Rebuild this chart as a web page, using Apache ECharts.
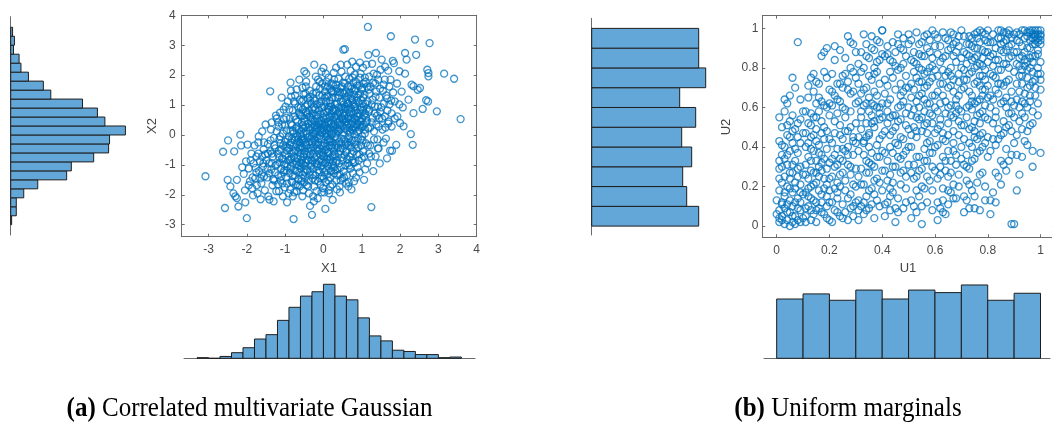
<!DOCTYPE html>
<html><head><meta charset="utf-8">
<script src="https://cdn.jsdelivr.net/npm/echarts@6/dist/echarts.min.js"></script>
<style>html,body{margin:0;padding:0;background:#fff}#c{width:1052px;height:425px}</style>
</head><body><div id="c"></div>
<script>
// ---------- DATA ----------
const x1Edges = [-3.3,-3.0,-2.7,-2.4,-2.1,-1.8,-1.5,-1.2,-0.9,-0.6,-0.3,0,0.3,0.6,0.9,1.2,1.5,1.8,2.1,2.4,2.7,3.0,3.3,3.6];
const x1Counts = [1,0,3,9,17,31,38,61,82,100,107,119,100,94,65,36,28,13,11,6,6,1,2];
const x2Edges = [-3.0,-2.7,-2.4,-2.1,-1.8,-1.5,-1.2,-0.9,-0.6,-0.3,0,0.3,0.6,0.9,1.2,1.5,1.8,2.1,2.4,2.7,3.0,3.3,3.6];
const x2Counts = [1,6,6,14,29,60,65,89,105,106,123,101,93,77,43,35,19,11,9,3,4,2];
const uEdges = [0,0.1,0.2,0.3,0.4,0.5,0.6,0.7,0.8,0.9,1.0];
const u1Counts = [93,101,91,107,93,107,103,115,91,102];
const u2Counts = [107,95,91,100,90,104,88,114,107,107];
const gaussTicks = ['-3','-2','-1','0','1','2','3','4'];
const unifTicks = ['0','0.2','0.4','0.6','0.8','1'];
const captionA = ['(a)', ' Correlated multivariate Gaussian'];
const captionB = ['(b)', ' Uniform marginals'];

const gaussPtsOuter = [
[-3.08,-1.38],
[-2.57,-2.44],[-2.49,-0.18],[-2.43,-1.72],[-2.50,-1.50],[-2.62,-0.56],
[-2.33,-0.55],[-2.26,-2.11],[-2.22,-2.39],[-2.17,0.01],[-2.26,-1.50],[-2.35,-1.95],[-2.15,-0.35],[-2.12,-1.08],[-2.30,-2.05],
[-2.00,-2.78],[-2.05,-1.85],[-1.95,-1.12],[-1.88,-0.62],[-2.02,-0.88],[-1.92,-1.55],[-1.84,-2.02],[-2.08,-1.30],[-1.98,-0.32],[-1.86,-1.78],[-1.82,-0.95],[-2.04,-2.25],
[-1.78,-1.45],[-1.75,-0.72],[-1.72,-1.95],[-1.70,-0.25],[-1.68,-1.20],[-1.66,-0.88],[-1.64,-2.15],[-1.62,-1.62],[-1.60,0.12],[-1.58,-1.05],[-1.56,-0.48],[-1.55,-1.38],[-1.53,-1.85],[-1.52,-0.65],[-1.77,-1.10],[-1.69,-0.05],[-1.61,-1.32],[-1.57,-0.95],[-1.74,-1.68],[-1.51,0.35],
[-1.49,-0.85],[-1.47,-1.42],[-1.45,-0.30],[-1.44,-2.05],[-1.42,-0.95],[-1.41,-2.16],[-1.39,1.46],[-1.38,-0.55],[-1.36,-1.15],[-1.35,0.42],[-1.33,-1.68],[-1.32,-0.72],[-1.30,-2.22],[-1.29,-0.10],[-1.27,-1.25],[-1.26,-0.45],[-1.24,0.65],[-1.23,-1.88],[-1.21,-0.98],[-1.46,-1.12],[-1.37,0.18],[-1.28,-1.52],[-1.22,0.55],[-1.34,-0.62],
[-1.19,-0.62],[-1.18,-1.35],[-1.17,0.28],[-1.16,-1.88],[-1.15,-0.15],[-1.14,-0.92],[-1.13,0.75],[-1.12,-1.52],[-1.11,-0.48],[-1.10,-1.12],[-1.09,1.25],[-1.08,-0.78],[-1.07,-1.62],[-1.06,0.05],[-1.05,-0.35],[-1.04,-1.25],[-1.03,0.52],[-1.02,-0.98],[-1.01,-1.75],[-1.00,-0.22],[-0.99,0.95],[-0.98,-0.68],[-0.97,-1.42],[-0.96,0.15],[-0.95,-0.52],[-0.94,-1.05],[-0.93,1.12],[-0.92,-0.85],[-0.91,-1.95],[-0.90,-0.05],[-1.18,0.42],[-1.12,-0.28],[-1.06,-2.05],[-1.00,0.32],[-0.96,-1.18],[-1.15,-0.75],[-1.04,0.85],[-0.94,-0.42],
[-0.89,-0.45],[-0.88,-1.28],[-0.88,0.55],[-0.87,-0.82],[-0.87,-1.82],[-0.86,0.12],[-0.85,-0.25],[-0.85,-1.05],[-0.84,1.28],[-0.84,-0.62],[-0.83,-1.55],[-0.82,0.32],[-0.82,-0.12],[-0.81,-0.95],[-0.80,0.82],[-0.80,-1.38],[-0.79,-0.38],[-0.78,-2.81],[-0.78,0.05],[-0.77,-0.72],[-0.76,-1.92],[-0.76,0.62],[-0.75,-0.18],[-0.74,-1.18],[-0.74,1.05],[-0.73,-0.52],[-0.72,-1.65],[-0.72,0.22],[-0.71,-0.88],[-0.70,1.52],[-0.70,-0.32],[-0.69,-1.22],[-0.68,0.45],[-0.68,-0.05],[-0.67,-0.78],[-0.66,-1.48],[-0.66,0.92],[-0.65,-0.58],[-0.64,0.18],[-0.64,-1.02],[-0.63,1.85],[-0.63,-0.22],[-0.62,-1.72],[-0.62,0.68],[-0.61,-0.45],[-0.61,-0.92],[-0.86,1.75],[-0.80,-2.05],[-0.74,1.32],[-0.70,-1.88],[-0.66,-0.15],[-0.62,1.18],
[-0.60,-0.28],[-0.60,-1.12],[-0.59,0.65],[-0.59,-0.62],[-0.58,0.15],[-0.58,-1.55],[-0.57,1.12],[-0.57,-0.05],[-0.56,-0.85],[-0.56,0.42],[-0.55,-1.32],[-0.55,1.58],[-0.54,-0.42],[-0.54,0.85],[-0.53,-1.85],[-0.53,0.05],[-0.52,-0.72],[-0.52,1.35],[-0.51,-0.18],[-0.50,2.13],[-0.50,-1.02],[-0.50,0.55],[-0.49,-0.55],[-0.48,0.28],[-0.48,-1.42],[-0.47,0.95],[-0.47,-0.32],[-0.46,-0.92],[-0.45,1.78],[-0.45,0.12],[-0.44,-1.68],[-0.44,-0.65],[-0.43,0.68],[-0.42,-0.08],[-0.42,-1.18],[-0.41,1.22],[-0.40,-0.45],[-0.40,0.38],[-0.39,-0.85],[-0.38,-1.95],[-0.38,0.82],[-0.37,-0.22],[-0.36,1.48],[-0.36,-1.35],[-0.35,-2.37],[-0.35,0.18],[-0.34,-0.68],[-0.33,0.58],[-0.33,-1.05],[-0.32,-0.12],[-0.31,1.05],[-0.31,-0.52],[-0.30,-2.67],[-0.30,0.35],[-0.58,-0.95],[-0.54,0.32],[-0.49,-1.25],[-0.46,1.62],[-0.42,0.72],[-0.39,-1.52],[-0.35,1.28],[-0.32,-0.85],[-0.56,-0.15],
[-0.30,-0.05],[-0.29,-0.85],[-0.29,0.72],[-0.28,-1.45],[-0.28,0.25],[-0.27,-0.42],[-0.27,1.38],[-0.26,-1.12],[-0.26,0.05],[-0.25,0.92],[-0.25,-0.62],[-0.24,2.35],[-0.24,-1.72],[-0.23,0.45],[-0.23,-0.18],[-0.22,1.15],[-0.22,-0.95],[-0.21,0.18],[-0.21,-1.35],[-0.20,0.65],[-0.20,-0.32],[-0.19,1.62],[-0.19,-0.72],[-0.18,-1.88],[-0.18,0.32],[-0.17,-0.08],[-0.17,1.02],[-0.16,-1.05],[-0.16,0.55],[-0.15,-0.52],[-0.14,1.85],[-0.14,-1.55],[-0.13,0.12],[-0.13,-0.25],[-0.12,0.82],[-0.12,-0.88],[-0.11,1.32],[-0.11,-1.25],[-0.10,0.38],[-0.10,-0.45],[-0.09,-0.02],[-0.09,1.55],[-0.08,-1.65],[-0.08,0.68],[-0.07,-0.68],[-0.07,0.22],[-0.06,-1.02],[-0.06,1.12],[-0.05,-0.15],[-0.05,0.48],[-0.04,-1.38],[-0.04,0.92],[-0.03,-0.58],[-0.03,1.72],[-0.02,0.08],[-0.02,-0.92],[-0.01,0.58],[-0.01,-1.78],[0.00,2.24],[0.00,-0.35],[-0.27,-2.05],[-0.20,1.95],[-0.15,-2.12],[-0.10,1.78],[-0.05,-1.92],[-0.22,0.02],[-0.12,-0.12],
[0.01,0.15],[0.01,-0.72],[0.02,0.95],[0.02,-1.25],[0.03,0.42],[0.03,-0.28],[0.04,1.45],[0.04,-0.95],[0.05,-2.47],[0.05,0.62],[0.06,-0.05],[0.06,-1.58],[0.07,1.12],[0.07,-0.48],[0.08,0.28],[0.08,1.78],[0.09,-0.82],[0.09,0.05],[0.10,-1.32],[0.10,0.78],[0.11,-0.18],[0.11,1.32],[0.12,-1.05],[0.12,0.45],[0.13,-0.62],[0.13,1.92],[0.14,0.12],[0.14,-1.85],[0.15,0.95],[0.15,-0.35],[0.16,0.58],[0.16,-0.92],[0.17,1.55],[0.17,-1.42],[0.18,0.22],[0.18,-0.12],[0.19,1.05],[0.19,-0.75],[0.20,0.38],[0.20,-1.18],[0.21,1.72],[0.21,-0.42],[0.22,0.72],[0.22,0.02],[0.23,-1.65],[0.23,1.25],[0.24,-2.17],[0.24,-0.25],[0.25,0.48],[0.25,-0.88],[0.26,1.42],[0.26,0.15],[0.27,-0.55],[0.27,0.88],[0.28,-1.28],[0.28,1.85],[0.29,-0.08],[0.29,0.62],[0.02,-1.92],[0.06,2.05],[0.10,-0.05],[0.14,0.85],[0.18,-1.72],[0.22,1.48],[0.26,-1.02],[0.04,0.32],[0.08,-0.38],[0.12,1.62],[0.16,-0.22],[0.20,0.95],[0.24,0.28],[0.28,-0.72],[0.03,1.25],[0.15,-1.95],[0.27,2.08],
[0.30,0.35],[0.30,-0.65],[0.31,1.25],[0.31,-1.18],[0.32,0.05],[0.32,0.82],[0.33,-0.35],[0.33,1.68],[0.34,-1.52],[0.34,0.52],[0.35,-0.12],[0.35,1.05],[0.36,-0.85],[0.36,0.25],[0.37,1.45],[0.37,-1.35],[0.38,0.68],[0.38,-0.42],[0.39,1.88],[0.39,0.12],[0.40,-0.95],[0.40,0.92],[0.41,-0.22],[0.41,1.32],[0.42,0.42],[0.42,-1.72],[0.43,-1.92],[0.43,0.75],[0.44,-0.55],[0.44,1.58],[0.45,0.18],[0.45,-1.08],[0.46,1.12],[0.46,-0.28],[0.47,0.58],[0.47,2.12],[0.48,-0.75],[0.48,0.32],[0.49,1.42],[0.49,-1.45],[0.50,0.02],[0.50,0.85],[0.51,-0.45],[0.51,1.75],[0.52,2.85],[0.52,0.48],[0.53,-1.22],[0.53,1.02],[0.54,-0.15],[0.54,0.65],[0.55,1.38],[0.55,-0.68],[0.56,2.87],[0.56,0.22],[0.57,-1.02],[0.57,1.95],[0.58,0.55],[0.58,-0.32],[0.59,1.18],[0.59,-1.62],[0.33,2.25],[0.45,-1.52],[0.57,0.95],
[0.60,0.45],[0.60,-0.52],[0.61,1.28],[0.61,-1.35],[0.62,0.15],[0.62,2.35],[0.63,0.85],[0.63,-0.25],[0.64,1.62],[0.64,-0.95],[0.65,0.38],[0.65,1.05],[0.66,-1.58],[0.66,0.62],[0.67,-0.12],[0.67,1.88],[0.68,0.25],[0.68,-0.72],[0.69,1.42],[0.69,0.92],[0.70,-1.12],[0.70,0.05],[0.71,2.15],[0.71,0.55],[0.72,-0.42],[0.72,1.22],[0.73,-1.82],[0.73,0.78],[0.74,0.18],[0.74,1.55],[0.75,-0.85],[0.75,2.45],[0.76,0.42],[0.76,-0.18],[0.77,1.08],[0.77,-1.28],[0.78,0.68],[0.78,1.75],[0.79,-0.55],[0.79,0.28],[0.80,1.35],[0.80,-1.55],[0.81,0.95],[0.81,0.02],[0.82,2.02],[0.82,-0.92],[0.83,0.52],[0.83,1.48],[0.84,-0.32],[0.84,0.82],[0.85,2.28],[0.85,-1.42],[0.86,0.35],[0.86,1.15],[0.87,-0.65],[0.88,1.65],[0.88,0.12],[0.89,-1.08],[0.89,0.72],
[0.90,0.62],[0.91,-0.42],[0.92,1.35],[0.93,0.15],[0.94,-1.25],[0.95,1.92],[0.96,0.85],[0.97,-0.15],[0.98,1.18],[0.99,0.45],[1.00,-0.78],[1.01,1.58],[1.02,0.28],[1.03,2.25],[1.04,-0.55],[1.05,0.95],[1.06,-1.50],[1.07,1.35],[1.08,0.05],[1.09,0.72],[1.10,1.78],[1.11,-0.28],[1.12,2.35],[1.13,0.48],[1.14,-0.95],[1.15,1.12],[1.16,3.61],[1.17,2.68],[1.17,0.22],[1.18,1.52],[1.19,-0.62],[0.92,-0.85],[0.97,2.05],[1.01,-0.05],[1.05,1.72],[1.09,-1.15],[1.13,0.88],[0.94,0.32],[1.03,1.05],[1.11,0.58],[1.19,1.95],
[1.20,0.85],[1.22,-0.35],[1.23,1.62],[1.25,-2.41],[1.26,0.42],[1.28,1.18],[1.30,-1.21],[1.31,2.05],[1.32,0.12],[1.34,0.95],[1.36,-0.72],[1.37,2.74],[1.38,1.45],[1.40,0.65],[1.41,-0.15],[1.43,1.85],[1.44,0.28],[1.46,1.25],[1.47,-0.95],[1.48,0.78],[1.27,2.38],[1.35,1.72],[1.42,-0.45],[1.49,2.18],
[1.52,2.52],[1.53,0.55],[1.55,1.48],[1.57,-0.25],[1.58,1.05],[1.60,1.85],[1.62,0.25],[1.64,1.32],[1.66,-0.78],[1.67,0.82],[1.69,2.15],[1.70,0.45],[1.72,1.62],[1.74,-0.52],[1.76,3.30],[1.77,1.15],[1.79,-0.53],[1.78,0.72],[1.61,2.28],
[1.81,2.48],[1.84,2.40],[1.86,1.12],[1.90,-0.33],[1.93,0.62],[1.98,2.13],[2.00,0.40],[2.04,1.45],[2.07,0.92],[2.09,0.29],
[2.13,2.74],[2.13,2.05],[2.17,2.52],[2.28,0.03],[2.30,1.68],[2.33,-0.33],[2.35,1.63],[2.35,0.73],[2.22,1.18],
[2.39,3.19],[2.42,2.68],[2.46,1.51],[2.52,1.57],[2.59,0.87],[2.68,1.16],
[2.71,2.18],[2.74,2.07],[2.74,1.96],[2.73,1.12],[2.77,3.07],[2.96,0.79],
[3.15,2.05],[3.41,1.88],[3.58,0.53]
];
const gaussPtsCore = [
[-1.45,-0.62],[-1.41,-1.28],[-1.38,-0.18],[-1.35,-0.95],[-1.31,-1.48],[-1.28,-0.35],[-1.25,-1.02],[-1.22,0.12],[-1.19,-1.65],[-1.16,-0.52],[-1.13,-0.05],[-1.10,-1.38],[-1.08,0.35],[-1.05,-0.82],[-1.02,-1.18],[-0.99,-0.38],[-0.97,0.58],[-0.95,-1.62],[-0.93,-0.15],[-0.91,-0.72],
[-0.89,0.85],[-0.88,-0.32],[-0.86,-1.12],[-0.85,0.38],[-0.83,-0.78],[-0.81,-1.58],[-0.80,0.15],[-0.78,-0.55],[-0.77,1.12],[-0.75,-1.35],[-0.73,-0.08],[-0.72,0.52],[-0.70,-0.98],[-0.69,0.28],[-0.67,-1.68],[-0.66,-0.42],[-0.64,0.75],[-0.63,-1.25],[-0.61,0.02],[-0.60,-0.72],
[-0.59,0.92],[-0.58,-0.38],[-0.57,-1.45],[-0.56,0.62],[-0.55,-0.12],[-0.54,-0.98],[-0.53,1.18],[-0.52,0.22],[-0.51,-0.62],[-0.50,-1.58],[-0.49,0.45],[-0.48,-0.25],[-0.47,1.38],[-0.46,-1.15],[-0.45,0.78],[-0.44,-0.35],[-0.43,0.05],[-0.42,-0.82],[-0.41,1.02],[-0.40,-1.72],[-0.39,0.25],[-0.38,-0.55],[-0.37,0.62],[-0.36,-0.05],[-0.35,-1.22],[-0.34,1.15],[-0.33,-0.42],[-0.32,0.45],[-0.31,-0.95],[-0.30,0.88],
[-0.29,-0.25],[-0.28,0.52],[-0.27,-1.32],[-0.26,1.22],[-0.25,-0.15],[-0.24,0.32],[-0.23,-0.78],[-0.22,0.85],[-0.21,-1.52],[-0.20,0.12],[-0.19,-0.45],[-0.18,1.42],[-0.17,-0.98],[-0.16,0.25],[-0.15,0.68],[-0.14,-0.32],[-0.13,-1.18],[-0.12,0.42],[-0.11,-0.62],[-0.10,1.05],[-0.09,-1.45],[-0.08,0.15],[-0.07,0.98],[-0.06,-0.35],[-0.05,-0.82],[-0.04,0.35],[-0.03,1.32],[-0.02,-1.12],[-0.01,0.22],[0.00,-0.65],
[0.00,0.72],[0.01,-1.45],[0.02,0.35],[0.03,-0.52],[0.04,1.62],[0.05,0.08],[0.06,-0.92],[0.07,0.55],[0.08,-1.18],[0.09,1.28],[0.10,0.22],[0.11,-0.58],[0.12,0.88],[0.13,-1.52],[0.14,0.38],[0.15,-0.15],[0.16,1.15],[0.17,-0.82],[0.18,0.62],[0.19,-1.22],[0.20,0.05],[0.21,1.45],[0.22,-0.35],[0.23,0.82],[0.24,-0.68],[0.25,1.68],[0.26,0.32],[0.27,-1.08],[0.28,0.58],[0.29,-0.42],
[0.30,1.02],[0.31,0.18],[0.32,-0.92],[0.33,0.65],[0.34,-0.28],[0.35,1.55],[0.36,-1.15],[0.37,0.42],[0.38,1.25],[0.39,-0.62],[0.40,0.15],[0.41,0.78],[0.42,-1.32],[0.43,1.42],[0.44,0.35],[0.45,-0.45],[0.46,0.92],[0.47,-0.12],[0.48,1.62],[0.49,0.52],[0.50,-0.85],[0.51,1.12],[0.52,0.08],[0.53,0.72],[0.54,-1.42],[0.55,0.42],[0.56,1.72],[0.57,-0.22],[0.58,0.88],[0.59,-0.58],
[0.60,1.45],[0.61,0.32],[0.62,-0.82],[0.63,1.05],[0.64,0.55],[0.65,-0.35],[0.66,1.32],[0.67,0.72],[0.68,-1.02],[0.69,0.12],[0.70,1.62],[0.71,-0.25],[0.72,0.88],[0.73,0.38],[0.74,-0.62],[0.75,1.18],[0.76,1.92],[0.77,0.15],[0.78,-0.92],[0.79,1.02],[0.80,0.55],[0.81,1.52],[0.82,-0.18],[0.83,0.95],[0.84,0.25],[0.85,1.78],[0.86,-0.45],[0.87,0.62],[0.88,1.25],[0.89,0.38],
[0.90,-0.12],[0.91,1.08],[0.92,0.48],[0.93,1.65],[0.94,-0.65],[0.95,0.72],[0.96,1.38],[0.97,0.25],[0.98,-0.35],[0.99,0.92],[1.00,1.52],[1.01,0.55],[1.02,-0.18],[1.03,0.82],[1.04,1.25],[1.05,0.35],[1.06,-0.72],[1.07,0.65],[1.08,1.92],[1.09,0.18],
[1.10,1.05],[1.12,0.42],[1.14,1.62],[1.16,-0.35],[1.18,0.78],[1.20,1.38],[1.22,0.25],[1.24,-0.72],[1.26,1.02],[1.28,0.58],[1.30,1.75],[1.32,-0.15],[1.34,0.72],[1.36,1.28],[1.38,0.35],[1.40,2.02],[1.42,0.95],[1.44,-0.45],[1.46,0.55],[1.48,1.55],
[1.51,0.92],[1.54,0.18],[1.57,1.68],[1.60,0.62],[1.63,-0.12],[1.66,1.22],[1.69,0.38],[1.72,1.02],[1.75,1.85],[1.78,0.28],[1.82,1.42],[1.86,0.55],[1.92,1.72],[1.98,1.02],
[-1.55,-0.25],[-1.60,-0.72],[-1.65,-1.45],[-1.70,-0.62],[-1.75,-1.25],[-1.80,-0.35],[-1.85,-1.42],[-1.90,-0.85],[-1.95,-1.68],
[-0.95,-2.25],[-0.55,-2.05],[-0.25,-2.22],[0.35,-1.82],[0.65,-1.72],[-0.85,1.48],[-0.45,2.05],[-0.05,2.12],[0.45,2.35],[0.95,2.42]
];

const unifPtsA = [
[0.01,0.02],[0.02,0.05],[0.03,0.01],[0.01,0.08],[0.04,0.03],[0.05,0.07],[0.02,0.12],[0.06,0.10],[0.03,0.15],[0.07,0.05],[0.08,0.09],[0.01,0.18],[0.04,0.20],[0.05,0.13],[0.06,0.17],[0.09,0.02],[0.02,0.22],[0.07,0.19],[0.08,0.14],[0.03,0.25],[0.05,0.24],[0.09,0.21],[0.01,0.29],[0.04,0.31],[0.06,0.27],[0.08,0.25],[0.02,0.36],[0.03,0.40],[0.07,0.33],[0.09,0.30],[0.05,0.38],[0.01,0.43],[0.04,0.46],[0.06,0.42],[0.08,0.45],[0.02,0.50],[0.05,0.53],[0.07,0.49],[0.09,0.54],[0.03,0.58],[0.06,0.56],[0.05,0.66],[0.07,0.70],[0.04,0.62],[0.08,0.93],[0.09,0.08],[0.10,0.04],[0.00,0.06],[0.03,0.09],[0.06,0.02],[0.10,0.16],[0.02,0.30],[0.08,0.37],[0.10,0.47],[0.00,0.13],[0.05,0.00],[0.09,0.64],[0.04,0.11],[0.07,0.12],[0.01,0.33],
[0.11,0.05],[0.12,0.10],[0.13,0.03],[0.14,0.13],[0.15,0.08],[0.16,0.18],[0.17,0.12],[0.18,0.06],[0.19,0.21],[0.11,0.17],[0.12,0.24],[0.13,0.20],[0.14,0.27],[0.15,0.22],[0.16,0.25],[0.17,0.28],[0.18,0.19],[0.19,0.15],[0.20,0.24],[0.11,0.31],[0.12,0.35],[0.13,0.28],[0.14,0.38],[0.15,0.33],[0.16,0.41],[0.17,0.36],[0.18,0.44],[0.19,0.39],[0.20,0.32],[0.11,0.47],[0.12,0.52],[0.13,0.45],[0.14,0.55],[0.15,0.49],[0.16,0.58],[0.17,0.53],[0.18,0.61],[0.19,0.48],[0.20,0.56],[0.12,0.65],[0.14,0.68],[0.16,0.72],[0.13,0.75],[0.18,0.78],[0.15,0.62],[0.17,0.86],[0.19,0.90],[0.20,0.69],[0.11,0.09],[0.13,0.14],[0.15,0.02],[0.17,0.07],[0.19,0.10],[0.12,0.19],[0.14,0.06],[0.16,0.30],[0.18,0.34],[0.20,0.12],[0.11,0.40],[0.13,0.57],[0.15,0.43],[0.17,0.63],[0.19,0.75],[0.20,0.03],
[0.21,0.02],[0.22,0.08],[0.23,0.14],[0.24,0.05],[0.25,0.11],[0.26,0.18],[0.27,0.03],[0.28,0.09],[0.29,0.21],[0.21,0.25],[0.22,0.30],[0.23,0.22],[0.24,0.34],[0.25,0.27],[0.26,0.38],[0.27,0.31],[0.28,0.26],[0.29,0.36],[0.30,0.29],[0.21,0.42],[0.22,0.47],[0.23,0.39],[0.24,0.51],[0.25,0.44],[0.26,0.55],[0.27,0.48],[0.28,0.58],[0.29,0.45],[0.30,0.52],[0.21,0.61],[0.22,0.66],[0.23,0.72],[0.24,0.63],[0.25,0.70],[0.26,0.77],[0.27,0.73],[0.28,0.80],[0.29,0.68],[0.22,0.84],[0.24,0.89],[0.27,0.96],[0.29,0.92],[0.21,0.77],[0.25,0.60],[0.30,0.75],[0.23,0.17],[0.26,0.07],[0.28,0.16],[0.30,0.12],[0.22,0.36],[0.25,0.33],[0.27,0.40],[0.29,0.05],[0.24,0.20],[0.26,0.48],[0.28,0.67],[0.23,0.57],[0.30,0.42],
[0.31,0.03],[0.32,0.10],[0.33,0.06],[0.34,0.15],[0.35,0.09],[0.36,0.19],[0.37,0.04],[0.38,0.13],[0.39,0.22],[0.31,0.25],[0.32,0.29],[0.33,0.21],[0.34,0.33],[0.35,0.27],[0.36,0.37],[0.37,0.30],[0.38,0.41],[0.39,0.35],[0.40,0.28],[0.31,0.45],[0.32,0.49],[0.33,0.43],[0.34,0.52],[0.35,0.47],[0.36,0.56],[0.37,0.50],[0.38,0.60],[0.39,0.54],[0.40,0.46],[0.31,0.63],[0.32,0.67],[0.33,0.61],[0.34,0.70],[0.35,0.65],[0.36,0.74],[0.37,0.68],[0.38,0.78],[0.39,0.72],[0.40,0.62],[0.31,0.82],[0.32,0.88],[0.33,0.80],[0.34,0.92],[0.35,0.85],[0.36,0.96],[0.37,0.89],[0.38,0.83],[0.39,0.93],[0.40,0.99],[0.33,0.97],[0.31,0.13],[0.33,0.36],[0.35,0.58],[0.37,0.16],[0.39,0.44],[0.32,0.55],[0.34,0.08],[0.36,0.62],[0.38,0.24],[0.40,0.18],[0.35,0.40],[0.37,0.77],[0.39,0.60],[0.34,0.45],[0.36,0.11],
[0.41,0.05],[0.42,0.12],[0.43,0.08],[0.44,0.17],[0.45,0.02],[0.46,0.14],[0.47,0.21],[0.48,0.09],[0.49,0.25],[0.41,0.28],[0.42,0.33],[0.43,0.26],[0.44,0.37],[0.45,0.30],[0.46,0.41],[0.47,0.34],[0.48,0.44],[0.49,0.38],[0.50,0.31],[0.41,0.48],[0.42,0.52],[0.43,0.46],[0.44,0.56],[0.45,0.50],[0.46,0.60],[0.47,0.54],[0.48,0.63],[0.49,0.57],[0.50,0.49],[0.41,0.67],[0.42,0.71],[0.43,0.64],[0.44,0.75],[0.45,0.69],[0.46,0.79],[0.47,0.72],[0.48,0.82],[0.49,0.76],[0.50,0.70],[0.41,0.86],[0.42,0.91],[0.43,0.84],[0.44,0.93],[0.45,0.88],[0.46,0.97],[0.47,0.90],[0.48,0.95],[0.49,0.86],[0.50,0.97],[0.40,0.99],[0.43,0.19],[0.45,0.42],[0.47,0.61],[0.49,0.12],[0.42,0.58],[0.44,0.22],[0.46,0.07],[0.48,0.36],
[0.51,0.04],[0.52,0.10],[0.53,0.07],[0.54,0.15],[0.55,0.01],[0.56,0.19],[0.57,0.12],[0.58,0.23],[0.59,0.08],[0.51,0.27],[0.52,0.31],[0.53,0.25],[0.54,0.35],[0.55,0.29],[0.56,0.39],[0.57,0.33],[0.58,0.43],[0.59,0.37],[0.60,0.28],[0.51,0.46],[0.52,0.50],[0.53,0.45],[0.54,0.54],[0.55,0.48],[0.56,0.58],[0.57,0.52],[0.58,0.62],[0.59,0.56],[0.60,0.47],[0.51,0.65],[0.52,0.69],[0.53,0.63],[0.54,0.73],[0.55,0.67],[0.56,0.77],[0.57,0.71],[0.58,0.80],[0.59,0.75],[0.60,0.66],[0.51,0.84],[0.52,0.88],[0.53,0.82],[0.54,0.92],[0.55,0.86],[0.56,0.96],[0.57,0.90],[0.58,0.94],[0.59,0.85],[0.60,0.97],[0.52,0.78],[0.54,0.60],[0.56,0.70],[0.58,0.73],[0.60,0.79],[0.53,0.55],[0.55,0.79],[0.57,0.62],[0.59,0.66],[0.51,0.56],[0.53,0.35],[0.55,0.20],[0.57,0.42],[0.59,0.18],[0.54,0.87],
[0.61,0.03],[0.62,0.09],[0.63,0.13],[0.64,0.06],[0.65,0.11],[0.66,0.17],[0.67,0.21],[0.68,0.14],[0.69,0.26],[0.61,0.24],[0.62,0.30],[0.63,0.35],[0.64,0.28],[0.65,0.38],[0.66,0.33],[0.67,0.42],[0.68,0.36],[0.69,0.46],[0.70,0.40],[0.61,0.49],[0.62,0.54],[0.63,0.47],[0.64,0.57],[0.65,0.52],[0.66,0.61],[0.67,0.55],[0.68,0.64],[0.69,0.59],[0.70,0.51],[0.61,0.68],[0.62,0.72],[0.63,0.66],[0.64,0.76],[0.65,0.70],[0.66,0.80],[0.67,0.74],[0.68,0.83],[0.69,0.77],[0.70,0.69],[0.61,0.87],[0.62,0.91],[0.63,0.85],[0.64,0.95],[0.65,0.89],[0.66,0.98],[0.67,0.92],[0.68,0.88],[0.69,0.96],[0.70,0.99],[0.62,0.62],[0.64,0.43],[0.66,0.71],[0.68,0.57],[0.70,0.85],[0.63,0.79],[0.65,0.60],[0.67,0.86],[0.69,0.66],[0.61,0.58],[0.65,0.25],[0.67,0.48],[0.63,0.19],
[0.71,0.07],[0.72,0.13],[0.73,0.09],[0.74,0.18],[0.75,0.15],[0.76,0.22],[0.77,0.08],[0.78,0.27],[0.79,0.20],[0.71,0.31],[0.72,0.36],[0.73,0.29],[0.74,0.40],[0.75,0.34],[0.76,0.44],[0.77,0.38],[0.78,0.47],[0.79,0.42],[0.80,0.35],[0.71,0.51],[0.72,0.55],[0.73,0.49],[0.74,0.59],[0.75,0.53],[0.76,0.63],[0.77,0.57],[0.78,0.66],[0.79,0.61],[0.80,0.54],[0.71,0.70],[0.72,0.74],[0.73,0.68],[0.74,0.78],[0.75,0.72],[0.76,0.81],[0.77,0.76],[0.78,0.85],[0.79,0.79],[0.80,0.71],[0.71,0.88],[0.72,0.92],[0.73,0.86],[0.74,0.95],[0.75,0.90],[0.76,0.98],[0.77,0.93],[0.78,0.89],[0.79,0.97],[0.80,0.99],[0.72,0.82],[0.74,0.66],[0.76,0.73],[0.78,0.76],[0.80,0.83],[0.73,0.61],[0.75,0.85],[0.77,0.64],[0.79,0.88],[0.71,0.79],[0.73,0.96],[0.75,0.45],[0.77,0.82],[0.79,0.69],[0.72,0.23],[0.74,0.50],[0.76,0.90],[0.78,0.58],[0.80,0.93],[0.75,0.62],[0.77,0.46],
[0.81,0.06],[0.82,0.17],[0.83,0.12],[0.84,0.25],[0.85,0.21],[0.86,0.31],[0.87,0.28],[0.88,0.33],[0.89,0.01],[0.81,0.38],[0.82,0.44],[0.83,0.41],[0.84,0.49],[0.85,0.46],[0.86,0.53],[0.87,0.50],[0.88,0.57],[0.89,0.48],[0.90,0.42],[0.81,0.60],[0.82,0.64],[0.83,0.58],[0.84,0.67],[0.85,0.62],[0.86,0.71],[0.87,0.65],[0.88,0.74],[0.89,0.68],[0.90,0.61],[0.81,0.77],[0.82,0.81],[0.83,0.75],[0.84,0.84],[0.85,0.79],[0.86,0.88],[0.87,0.82],[0.88,0.91],[0.89,0.86],[0.90,0.78],[0.81,0.93],[0.82,0.97],[0.83,0.90],[0.84,0.99],[0.85,0.95],[0.86,0.98],[0.87,0.94],[0.88,0.97],[0.89,0.92],[0.82,0.87],[0.84,0.72],[0.86,0.63],[0.88,0.80],[0.83,0.55],[0.85,0.89],[0.87,0.73],[0.89,0.57],
[0.90,0.01],[0.91,0.18],[0.97,0.30],[0.97,0.38],[1.00,0.37],[0.92,0.26],[0.93,0.35],[0.94,0.43],[0.95,0.48],[0.96,0.51],[0.91,0.46],[0.92,0.53],[0.93,0.57],[0.94,0.55],[0.95,0.60],[0.96,0.63],[0.97,0.58],[0.98,0.66],[0.99,0.62],[1.00,0.69],[0.91,0.64],[0.92,0.68],[0.93,0.72],[0.94,0.67],[0.95,0.75],[0.96,0.71],[0.97,0.78],[0.98,0.74],[0.99,0.80],[1.00,0.77],[0.91,0.82],[0.92,0.85],[0.93,0.79],[0.94,0.88],[0.95,0.83],[0.96,0.90],[0.97,0.86],[0.98,0.92],[0.99,0.87],[1.00,0.94],[0.91,0.94],[0.92,0.97],[0.93,0.91],[0.94,0.99],[0.95,0.96],[0.96,0.98],[0.97,0.95],[0.98,0.99],[0.99,0.97],[1.00,0.99],[0.99,0.95],[0.98,0.96],[1.00,0.97],[0.97,0.99],[0.93,0.63],[0.95,0.70],[0.97,0.83],[0.99,0.89],[0.92,0.76],[0.94,0.81],[0.96,0.85]
];
const unifPtsB = [
[0.02,0.03],[0.04,0.07],[0.06,0.05],[0.08,0.03],[0.03,0.17],[0.05,0.19],[0.07,0.22],[0.01,0.24],[0.09,0.17],[0.06,0.31],[0.03,0.34],[0.08,0.29],[0.05,0.45],[0.02,0.41],[0.07,0.39],[0.09,0.42],[0.04,0.51],[0.06,0.48],[0.01,0.55],[0.08,0.52],[0.03,0.64],[0.10,0.58],[0.06,0.75],[0.02,0.11],[0.05,0.27],[0.09,0.12],[0.04,0.36],[0.07,0.01],[0.10,0.26],[0.01,0.04],
[0.11,0.02],[0.13,0.08],[0.15,0.12],[0.17,0.16],[0.19,0.04],[0.12,0.15],[0.14,0.21],[0.16,0.09],[0.18,0.24],[0.20,0.18],[0.11,0.26],[0.13,0.33],[0.15,0.27],[0.17,0.32],[0.19,0.29],[0.12,0.42],[0.14,0.46],[0.16,0.37],[0.18,0.50],[0.20,0.44],[0.11,0.58],[0.13,0.51],[0.15,0.55],[0.17,0.47],[0.19,0.60],[0.12,0.71],[0.14,0.77],[0.16,0.65],[0.18,0.88],[0.20,0.62],[0.15,0.73],[0.13,0.39],
[0.21,0.12],[0.23,0.07],[0.25,0.04],[0.27,0.14],[0.29,0.10],[0.22,0.19],[0.24,0.26],[0.26,0.23],[0.28,0.30],[0.30,0.20],[0.21,0.34],[0.23,0.31],[0.25,0.39],[0.27,0.36],[0.29,0.43],[0.22,0.53],[0.24,0.46],[0.26,0.59],[0.28,0.50],[0.30,0.62],[0.21,0.68],[0.23,0.64],[0.25,0.76],[0.27,0.69],[0.29,0.78],[0.22,0.91],[0.24,0.72],[0.26,0.85],[0.28,0.93],[0.30,0.88],
[0.31,0.08],[0.33,0.12],[0.35,0.18],[0.37,0.23],[0.39,0.10],[0.32,0.21],[0.34,0.27],[0.36,0.31],[0.38,0.35],[0.40,0.38],[0.31,0.38],[0.33,0.42],[0.35,0.46],[0.37,0.53],[0.39,0.57],[0.32,0.58],[0.34,0.62],[0.36,0.52],[0.38,0.66],[0.40,0.55],[0.31,0.72],[0.33,0.69],[0.35,0.76],[0.37,0.80],[0.39,0.84],[0.32,0.78],[0.34,0.86],[0.36,0.90],[0.38,0.94],[0.40,0.87],[0.37,0.61],[0.35,0.32],
[0.41,0.11],[0.43,0.15],[0.45,0.09],[0.47,0.27],[0.49,0.19],[0.42,0.23],[0.44,0.30],[0.46,0.35],[0.48,0.28],[0.50,0.40],[0.41,0.37],[0.43,0.40],[0.45,0.56],[0.47,0.45],[0.49,0.51],[0.42,0.62],[0.44,0.48],[0.46,0.53],[0.48,0.68],[0.50,0.60],[0.41,0.74],[0.43,0.78],[0.45,0.81],[0.47,0.66],[0.49,0.70],[0.42,0.87],[0.44,0.83],[0.46,0.92],[0.48,0.89],[0.50,0.92],[0.43,0.55],[0.47,0.80],
[0.51,0.13],[0.53,0.18],[0.55,0.10],[0.57,0.25],[0.59,0.30],[0.52,0.24],[0.54,0.28],[0.56,0.33],[0.58,0.37],[0.60,0.40],[0.51,0.40],[0.53,0.48],[0.55,0.55],[0.57,0.47],[0.59,0.52],[0.52,0.59],[0.54,0.66],[0.56,0.64],[0.58,0.57],[0.60,0.60],[0.51,0.72],[0.53,0.75],[0.55,0.73],[0.57,0.78],[0.59,0.81],[0.52,0.83],[0.54,0.80],[0.56,0.86],[0.58,0.88],[0.60,0.91],[0.51,0.94],[0.53,0.98],[0.55,0.93],[0.57,0.97],[0.59,0.99],[0.56,0.51],
[0.61,0.12],[0.63,0.07],[0.65,0.18],[0.67,0.14],[0.69,0.20],[0.62,0.26],[0.64,0.33],[0.66,0.27],[0.68,0.31],[0.70,0.34],[0.61,0.41],[0.63,0.44],[0.65,0.46],[0.67,0.38],[0.69,0.53],[0.62,0.51],[0.64,0.63],[0.66,0.56],[0.68,0.61],[0.70,0.58],[0.61,0.76],[0.63,0.72],[0.65,0.78],[0.67,0.68],[0.69,0.73],[0.62,0.83],[0.64,0.86],[0.66,0.90],[0.68,0.93],[0.70,0.80],[0.61,0.95],[0.63,0.98],[0.65,0.94],[0.67,0.97],[0.69,0.91],[0.66,0.76],
[0.71,0.15],[0.73,0.21],[0.75,0.09],[0.77,0.26],[0.79,0.13],[0.72,0.30],[0.74,0.33],[0.76,0.37],[0.78,0.40],[0.80,0.45],[0.71,0.44],[0.73,0.42],[0.75,0.48],[0.77,0.52],[0.79,0.55],[0.72,0.60],[0.74,0.63],[0.76,0.56],[0.78,0.69],[0.80,0.65],[0.71,0.74],[0.73,0.77],[0.75,0.80],[0.77,0.71],[0.79,0.74],[0.72,0.87],[0.74,0.84],[0.76,0.86],[0.78,0.81],[0.80,0.88],[0.71,0.96],[0.73,0.92],[0.75,0.97],[0.77,0.99],[0.79,0.94],[0.74,0.91],[0.76,0.95],[0.78,0.98],
[0.81,0.13],[0.83,0.27],[0.85,0.33],[0.87,0.39],[0.89,0.36],[0.82,0.52],[0.84,0.44],[0.86,0.47],[0.88,0.51],[0.90,0.55],[0.81,0.66],[0.83,0.69],[0.85,0.72],[0.87,0.60],[0.89,0.63],[0.82,0.76],[0.84,0.79],[0.86,0.82],[0.88,0.85],[0.90,0.88],[0.81,0.86],[0.83,0.84],[0.85,0.92],[0.87,0.89],[0.89,0.95],[0.82,0.93],[0.84,0.95],[0.86,0.93],[0.88,0.99],[0.90,0.97],[0.87,0.98],[0.85,0.99],
[0.91,0.36],[0.93,0.49],[0.95,0.41],[0.97,0.52],[0.99,0.56],[0.92,0.60],[0.94,0.62],[0.96,0.66],[0.98,0.70],[1.00,0.74],[0.91,0.72],[0.93,0.76],[0.95,0.79],[0.97,0.73],[0.99,0.77],[0.92,0.81],[0.94,0.84],[0.96,0.80],[0.98,0.86],[1.00,0.83],[0.91,0.88],[0.93,0.86],[0.95,0.90],[0.97,0.92],[0.99,0.93],[0.92,0.93],[0.94,0.95],[0.96,0.94],[0.98,0.97],[1.00,0.96],[0.91,0.98],[0.93,0.99],[0.95,0.98],[0.97,0.97],[0.99,0.99],[0.96,0.99],[0.98,0.94],[1.00,0.92]
];

// ---------- STYLE ----------
const AX = '#6b6b6b', LB = '#4a4a4a', SANS = '"Liberation Sans", Arial, sans-serif';
const SERIF = '"Liberation Serif", "Times New Roman", serif';
const BAR_FILL = '#63a7d8', BAR_EDGE = '#1e1e1e', MARK = '#0072BD';

function histData(edges, counts) { return counts.map((c, i) => [edges[i], edges[i + 1], c]); }

function histRender(vertical) {
  return function (params, api) {
    const lo = api.value(0), hi = api.value(1), c = api.value(2);
    let p0, p1;
    if (vertical) { p0 = api.coord([lo, 0]); p1 = api.coord([hi, c]); }
    else { p0 = api.coord([0, lo]); p1 = api.coord([c, hi]); }
    const x = Math.min(p0[0], p1[0]), y = Math.min(p0[1], p1[1]);
    return { type: 'rect',
      shape: { x: x, y: y, width: Math.abs(p1[0] - p0[0]), height: Math.abs(p1[1] - p0[1]) },
      style: { fill: BAR_FILL, stroke: BAR_EDGE, lineWidth: 1 } };
  };
}

function fmtFrom(ticks) {
  return function (v) {
    for (const t of ticks) { if (Math.abs(parseFloat(t) - v) < 1e-6) return t; }
    return '';
  };
}

function scatterAxis(gridIndex, pos, min, max, split, ticks, margin, showLabel) {
  return { gridIndex, type: 'value', position: pos, min, max, splitNumber: split,
    axisLine: { show: true, onZero: false, lineStyle: { color: AX, width: 1 } },
    axisTick: { show: true, inside: true, length: 3, lineStyle: { color: AX } },
    axisLabel: { show: showLabel, formatter: fmtFrom(ticks), margin, color: LB, fontSize: 12, fontFamily: SANS,
      showMinLabel: true, showMaxLabel: true },
    splitLine: { show: false } };
}
function baseAxis(gridIndex, pos, min, max) {
  return { gridIndex, type: 'value', position: pos, min, max,
    axisLine: { show: true, onZero: false, lineStyle: { color: AX, width: 1 } },
    axisTick: { show: false }, axisLabel: { show: false }, splitLine: { show: false } };
}
function hiddenAxis(gridIndex, min, max) {
  return { gridIndex, type: 'value', min, max, show: false, splitLine: { show: false } };
}
const markerStyle = { color: 'rgba(0,0,0,0)', borderColor: MARK, borderWidth: 1.3, opacity: 0.75 };

const chart = echarts.init(document.getElementById('c'), null, { renderer: 'canvas' });
const option = {
  animation: false,
  backgroundColor: '#fff',
  grid: [
    { left: 181.7, top: 15.3, width: 295, height: 221.4, outerBoundsMode: 'none' },
    { left: 10.7, top: 16.7, width: 130, height: 218.3, outerBoundsMode: 'none' },
    { left: 184, top: 280, width: 291, height: 78.3, outerBoundsMode: 'none' },
    { left: 762.3, top: 15.7, width: 292.6, height: 221.6, outerBoundsMode: 'none' },
    { left: 591.7, top: 18.3, width: 130, height: 216.7, outerBoundsMode: 'none' },
    { left: 764, top: 280, width: 286, height: 78.3, outerBoundsMode: 'none' }
  ],
  xAxis: [
    scatterAxis(0, 'bottom', -3.7, 4, 8, gaussTicks, 7, true),
    scatterAxis(0, 'top', -3.7, 4, 8, gaussTicks, 7, false),
    hiddenAxis(1, 0, 139.4),
    baseAxis(2, 'bottom', -3.64, 3.956),
    scatterAxis(3, 'bottom', -0.0545, 1.0545, 6, unifTicks, 7, true),
    scatterAxis(3, 'top', -0.0545, 1.0545, 6, unifTicks, 7, false),
    hiddenAxis(4, 0, 130),
    baseAxis(5, 'bottom', -0.048, 1.036)
  ],
  yAxis: [
    scatterAxis(0, 'left', -3.4, 4, 7, gaussTicks, 6, true),
    scatterAxis(0, 'right', -3.4, 4, 7, gaussTicks, 6, false),
    baseAxis(1, 'left', -3.343, 3.953),
    hiddenAxis(2, 0, 125.9),
    scatterAxis(3, 'left', -0.057, 1.064, 6, unifTicks, 4, true),
    scatterAxis(3, 'right', -0.057, 1.064, 6, unifTicks, 4, false),
    baseAxis(4, 'left', -0.045, 1.051),
    hiddenAxis(5, 0, 122.8)
  ],
  series: [
    { type: 'scatter', xAxisIndex: 0, yAxisIndex: 0, data: gaussPtsOuter.concat(gaussPtsCore), symbol: 'circle',
      symbolSize: 7, silent: true, itemStyle: markerStyle },
    { type: 'custom', xAxisIndex: 2, yAxisIndex: 2, data: histData(x2Edges, x2Counts), renderItem: histRender(false),
      encode: { x: 2, y: [0, 1] }, silent: true },
    { type: 'custom', xAxisIndex: 3, yAxisIndex: 3, data: histData(x1Edges, x1Counts), renderItem: histRender(true),
      encode: { x: [0, 1], y: 2 }, silent: true },
    { type: 'scatter', xAxisIndex: 4, yAxisIndex: 4, data: unifPtsA.concat(unifPtsB), symbol: 'circle',
      symbolSize: 7, silent: true, itemStyle: markerStyle },
    { type: 'custom', xAxisIndex: 6, yAxisIndex: 6, data: histData(uEdges, u2Counts), renderItem: histRender(false),
      encode: { x: 2, y: [0, 1] }, silent: true },
    { type: 'custom', xAxisIndex: 7, yAxisIndex: 7, data: histData(uEdges, u1Counts), renderItem: histRender(true),
      encode: { x: [0, 1], y: 2 }, silent: true }
  ],
  graphic: [
    { type: 'text', x: 152, y: 126, rotation: Math.PI / 2, silent: true,
      style: { text: 'X2', fontSize: 13, fontFamily: SANS, fill: '#444', align: 'center', verticalAlign: 'middle' } },
    { type: 'text', x: 329, y: 268, silent: true,
      style: { text: 'X1', fontSize: 13, fontFamily: SANS, fill: '#444', align: 'center', verticalAlign: 'middle' } },
    { type: 'text', x: 726, y: 127, rotation: Math.PI / 2, silent: true,
      style: { text: 'U2', fontSize: 13, fontFamily: SANS, fill: '#444', align: 'center', verticalAlign: 'middle' } },
    { type: 'text', x: 908, y: 268, silent: true,
      style: { text: 'U1', fontSize: 13, fontFamily: SANS, fill: '#444', align: 'center', verticalAlign: 'middle' } },
    { type: 'text', x: 249.5, y: 409, scaleY: 1.1, silent: true,
      style: { text: '{b|' + captionA[0] + '}' + captionA[1], fontSize: 25, fontFamily: SERIF,
        fill: '#000', align: 'center', verticalAlign: 'middle',
        rich: { b: { fontWeight: 'bold', fontSize: 25, fontFamily: SERIF, fill: '#000' } } } },
    { type: 'text', x: 848, y: 409, scaleY: 1.1, silent: true,
      style: { text: '{b|' + captionB[0] + '}' + captionB[1], fontSize: 25, fontFamily: SERIF,
        fill: '#000', align: 'center', verticalAlign: 'middle',
        rich: { b: { fontWeight: 'bold', fontSize: 25, fontFamily: SERIF, fill: '#000' } } } }
  ]
};
chart.setOption(option);
</script>
</body></html>
